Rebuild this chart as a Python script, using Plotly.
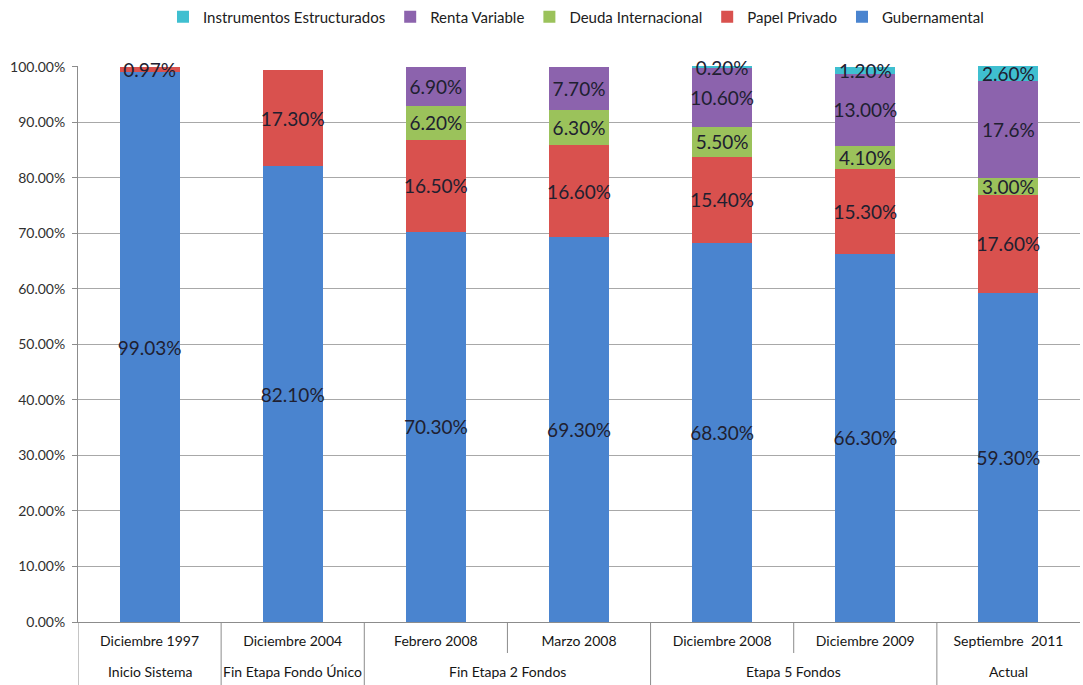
import plotly.graph_objects as go

periods = ["Diciembre 1997", "Diciembre 2004", "Febrero 2008", "Marzo 2008",
           "Diciembre 2008", "Diciembre 2009", "Septiembre  2011"]
stages = ["Inicio Sistema", "Fin Etapa Fondo Único", "Fin Etapa 2 Fondos", "Fin Etapa 2 Fondos",
          "Etapa 5 Fondos", "Etapa 5 Fondos", "Actual"]

gubernamental = [99.03, 82.10, 70.30, 69.30, 68.30, 66.30, 59.30]
papel_privado = [0.97, 17.30, 16.50, 16.60, 15.40, 15.30, 17.60]
deuda_internacional = [0, 0, 6.20, 6.30, 5.50, 4.10, 3.00]
renta_variable = [0, 0, 6.90, 7.70, 10.60, 13.00, 17.6]
instrumentos = [0, 0, 0, 0, 0.20, 1.20, 2.60]

lbl_gub = ["99.03%", "82.10%", "70.30%", "69.30%", "68.30%", "66.30%", "59.30%"]
lbl_pap = ["0.97%", "17.30%", "16.50%", "16.60%", "15.40%", "15.30%", "17.60%"]
lbl_deu = ["", "", "6.20%", "6.30%", "5.50%", "4.10%", "3.00%"]
lbl_ren = ["", "", "6.90%", "7.70%", "10.60%", "13.00%", "17.6%"]
lbl_ins = ["", "", "", "", "0.20%", "1.20%", "2.60%"]

y_tick_vals = [0, 10, 20, 30, 40, 50, 60, 70, 80, 90, 100]
y_tick_text = ["0.00%", "10.00%", "20.00%", "30.00%", "40.00%", "50.00%",
               "60.00%", "70.00%", "80.00%", "90.00%", "100.00%"]

series = [
    ("Gubernamental", gubernamental, lbl_gub, "#4a84cf"),
    ("Papel Privado", papel_privado, lbl_pap, "#d9514e"),
    ("Deuda Internacional", deuda_internacional, lbl_deu, "#9bc25b"),
    ("Renta Variable", renta_variable, lbl_ren, "#8c63ad"),
    ("Instrumentos Estructurados", instrumentos, lbl_ins, "#3fbfd0"),
]

AXIS_GRAY = "#8c8c8c"
PLOT_H = 685 - 66 - 63

fig = go.Figure()
for name, vals, lbls, col in series:
    fig.add_trace(go.Bar(
        x=periods, y=vals, name=name, text=lbls,
        marker=dict(color=col, line=dict(width=0)),
        textposition="inside", insidetextanchor="middle", textangle=0,
        textfont=dict(family="Lato", size=19, color="#202030"),
        cliponaxis=False,
    ))

# second-level (stage) labels and group dividers
groups = []
for i, s in enumerate(stages):
    if i == 0 or s != stages[i - 1]:
        groups.append([s, i, i])
    else:
        groups[-1][2] = i

group_starts = {g[1] for g in groups}
for s, i0, i1 in groups:
    fig.add_annotation(
        x=(i0 + i1) / 2, xref="x", y=-50 / PLOT_H, yref="paper",
        text=s, showarrow=False, yanchor="middle",
        font=dict(family="Lato", size=14, color="#151515"),
    )
    fig.add_shape(type="line", xref="x", yref="paper",
                  x0=i0 - 0.5, x1=i0 - 0.5, y0=0, y1=-63 / PLOT_H,
                  line=dict(color=AXIS_GRAY, width=1))

# first-level separators between periods
for i in range(1, len(periods)):
    if i not in group_starts:
        fig.add_shape(type="line", xref="x", yref="paper",
                      x0=i - 0.5, x1=i - 0.5, y0=0, y1=-31 / PLOT_H,
                      line=dict(color=AXIS_GRAY, width=1))

fig.update_layout(
    barmode="stack",
    bargap=0.58,
    width=1083, height=685,
    margin=dict(l=78, r=3, t=66, b=63, autoexpand=False),
    plot_bgcolor="white", paper_bgcolor="white",
    uniformtext=dict(minsize=19, mode="show"),
    font=dict(family="Lato", color="#202020"),
    legend=dict(orientation="h", x=0.497, xanchor="center",
                yref="container", y=1 - 17 / 685, yanchor="middle",
                traceorder="reversed", font=dict(family="Lato", size=15, color="#202020")),
    showlegend=True,
)
fig.update_yaxes(
    range=[0, 100.12], tickvals=y_tick_vals, ticktext=y_tick_text,
    showgrid=True, gridcolor="#a8a8a8", gridwidth=1,
    showline=True, linecolor=AXIS_GRAY, linewidth=1,
    ticks="outside", ticklen=5, tickcolor=AXIS_GRAY,
    ticklabelstandoff=4,
    tickfont=dict(family="Lato", size=14, color="#303030"),
    zeroline=False,
)
fig.update_xaxes(
    type="category", range=[-0.5, 6.5],
    showline=True, linecolor=AXIS_GRAY, linewidth=1,
    ticks="", ticklabelstandoff=6,
    tickfont=dict(family="Lato", size=14, color="#151515"),
)

fig.write_html("out.html")
